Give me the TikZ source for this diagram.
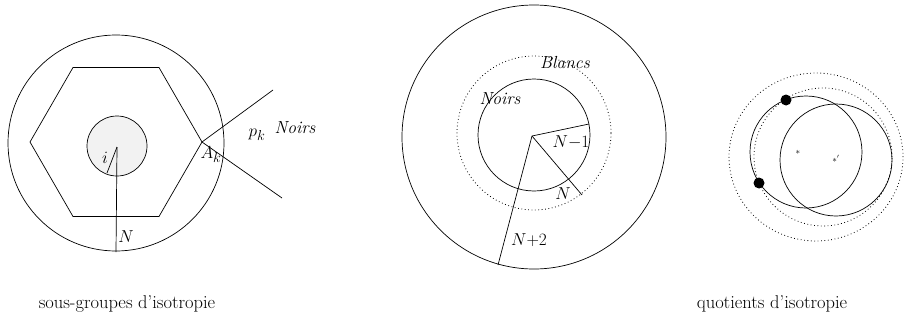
\documentclass[tikz,border=0pt]{standalone}
\begin{document}
\begin{tikzpicture}[x=1pt,y=-1pt,
  thinline/.style={line width=0.7pt},
  dotline/.style={line width=0.8pt,dash pattern=on 0.8pt off 2.6pt},
  lbl/.style={inner sep=0pt,font=\fontsize{17.5}{20}\selectfont},
  mlbl/.style={inner sep=0pt,font=\fontsize{19}{22}\selectfont},
  captext/.style={inner sep=0pt,font=\fontsize{18.5}{22}\selectfont},
  star/.style={inner sep=0pt,font=\fontsize{9}{10}\selectfont}]
\useasboundingbox (0,0) rectangle (905,332);
% ---------- left figure ----------
\coordinate (O1) at (116,143);
\coordinate (C1) at (117,147);
\draw[thinline] (O1) circle[radius=108pt];
\coordinate (H1) at (202,142);
\coordinate (H2) at (159,67.5);
\coordinate (H3) at (73,67.5);
\coordinate (H4) at (30,142);
\coordinate (H5) at (73,216.5);
\coordinate (H6) at (159,216.5);
\draw[thinline] (H1) -- (H2) -- (H3) -- (H4) -- (H5) -- (H6) -- cycle;
\draw[thinline,fill=gray!10] (117,146) circle[radius=30pt];
\coordinate (Nend) at (116,252);
\coordinate (iend) at (107,173);
\coordinate (R1) at (273,90);
\coordinate (R2) at (282,198);
\draw[thinline] (C1) -- (Nend);
\draw[thinline] (C1) -- (iend);
\draw[thinline] (R1) -- (H1) -- (R2);
\node[mlbl] (lN) at (126,237) {$N$};
\node[mlbl] (li) at (105,158) {$i$};
\node[mlbl] (lA) at (211,155) {$A_k$};
\node[mlbl] (lp) at (257,135) {$p_k$};
\node[lbl] (lNoirs1) at (295,128) {\itshape Noirs};
% ---------- middle figure ----------
\coordinate (C2) at (532,136);
\draw[thinline] (534,137) circle[radius=132pt];
\draw[thinline] (534,135) circle[radius=56pt];
\draw[dotline] (534,133) circle[radius=77pt];
\coordinate (E1) at (589,124);
\coordinate (E2) at (582,195);
\coordinate (E3) at (498,265);
\draw[thinline] (C2) -- (E1);
\draw[thinline] (C2) -- (E2);
\draw[thinline] (C2) -- (E3);
\node[lbl] (lBlancs) at (565,63) {\itshape Blancs};
\node[lbl] (lNoirs2) at (500,99) {\itshape Noirs};
\node[mlbl] (lNm1) at (571,142) {$N{-}1$};
\node[mlbl] (lN2) at (563,194) {$N$};
\node[mlbl] (lNp2) at (529,240) {$N{+}2$};
% ---------- right figure ----------
\draw[dotline] (816,157) ellipse[x radius=87pt,y radius=84pt];
\draw[dotline] (823,157) circle[radius=69pt];
\draw[thinline] (806,152) circle[radius=56pt];
\draw[thinline] (836,160) circle[radius=56pt];
\fill (786,100) circle[radius=5.5pt];
\fill (759,183) circle[radius=5.5pt];
\node[star] (s1) at (798,152) {$*$};
\node[star] (s2) at (836,159) {$*'$};
% ---------- captions ----------
\node[captext] (cap1) at (127,304) {sous-groupes d'isotropie};
\node[captext] (cap2) at (772,304) {quotients d'isotropie};
\end{tikzpicture}
\end{document}
